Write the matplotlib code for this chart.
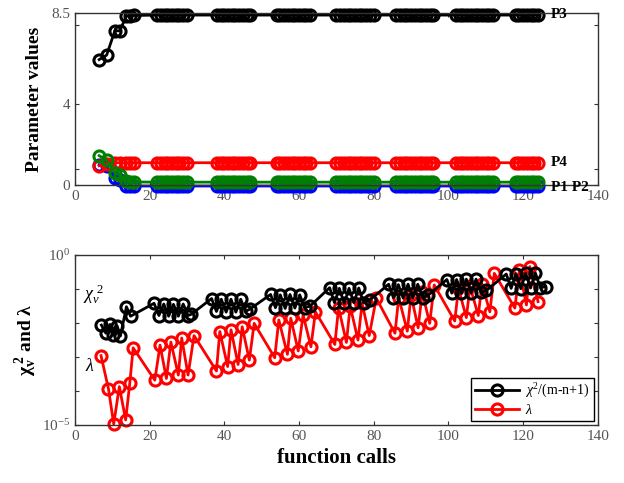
import numpy as np
import matplotlib
matplotlib.use('Agg')
import matplotlib.pyplot as plt

# fonts: Times-like serif everywhere, math too
plt.rcParams['font.family'] = ['Liberation Serif', 'DejaVu Serif']
plt.rcParams['mathtext.fontset'] = 'custom'
plt.rcParams['mathtext.rm'] = 'Liberation Serif'
plt.rcParams['mathtext.it'] = 'Liberation Serif:italic'
plt.rcParams['mathtext.bf'] = 'Liberation Serif:bold'

# ---- top panel: parameter values vs function calls ----
calls_top = [6.5, 8.5, 10.7, 12.0, 13.8, 14.8, 15.8,
             22, 23, 24, 25, 26, 27, 28, 29, 30,
             38, 39, 40, 41, 42, 43, 44, 45, 46, 47,
             54, 55, 56, 57, 58, 59, 60, 61, 62, 63,
             70, 71, 72, 73, 74, 75, 76, 77, 78, 79, 80,
             86, 87, 88, 89, 90, 91, 92, 93, 94, 95, 96,
             102, 103, 104, 105, 106, 107, 108, 109, 110, 111, 112,
             118, 119, 120, 121, 122, 123, 124]
p1 = [1.00, 0.92, 0.35, 0.25, -0.05, -0.05, -0.05,
      -0.05, -0.05, -0.05, -0.05, -0.05, -0.05, -0.05, -0.05, -0.05,
      -0.05, -0.05, -0.05, -0.05, -0.05, -0.05, -0.05, -0.05, -0.05, -0.05,
      -0.05, -0.05, -0.05, -0.05, -0.05, -0.05, -0.05, -0.05, -0.05, -0.05,
      -0.05, -0.05, -0.05, -0.05, -0.05, -0.05, -0.05, -0.05, -0.05, -0.05, -0.05,
      -0.05, -0.05, -0.05, -0.05, -0.05, -0.05, -0.05, -0.05, -0.05, -0.05, -0.05,
      -0.05, -0.05, -0.05, -0.05, -0.05, -0.05, -0.05, -0.05, -0.05, -0.05, -0.05,
      -0.05, -0.05, -0.05, -0.05, -0.05, -0.05, -0.05]
p2 = [1.45, 1.22, 0.60, 0.50, 0.18, 0.15, 0.15,
      0.14, 0.14, 0.14, 0.14, 0.14, 0.14, 0.14, 0.14, 0.14,
      0.14, 0.14, 0.14, 0.14, 0.14, 0.14, 0.14, 0.14, 0.14, 0.14,
      0.14, 0.14, 0.14, 0.14, 0.14, 0.14, 0.14, 0.14, 0.14, 0.14,
      0.14, 0.14, 0.14, 0.14, 0.14, 0.14, 0.14, 0.14, 0.14, 0.14, 0.14,
      0.14, 0.14, 0.14, 0.14, 0.14, 0.14, 0.14, 0.14, 0.14, 0.14, 0.14,
      0.14, 0.14, 0.14, 0.14, 0.14, 0.14, 0.14, 0.14, 0.14, 0.14, 0.14,
      0.14, 0.14, 0.14, 0.14, 0.14, 0.14, 0.14]
p3 = [6.20, 6.42, 7.62, 7.62, 8.35, 8.37, 8.38,
      8.40, 8.40, 8.40, 8.40, 8.40, 8.40, 8.40, 8.40, 8.40,
      8.40, 8.40, 8.40, 8.40, 8.40, 8.40, 8.40, 8.40, 8.40, 8.40,
      8.40, 8.40, 8.40, 8.40, 8.40, 8.40, 8.40, 8.40, 8.40, 8.40,
      8.40, 8.40, 8.40, 8.40, 8.40, 8.40, 8.40, 8.40, 8.40, 8.40, 8.40,
      8.40, 8.40, 8.40, 8.40, 8.40, 8.40, 8.40, 8.40, 8.40, 8.40, 8.40,
      8.40, 8.40, 8.40, 8.40, 8.40, 8.40, 8.40, 8.40, 8.40, 8.40, 8.40,
      8.40, 8.40, 8.40, 8.40, 8.40, 8.40, 8.40]
p4 = [0.95, 1.06, 1.10, 1.10, 1.10, 1.10, 1.10,
      1.10, 1.10, 1.10, 1.10, 1.10, 1.10, 1.10, 1.10, 1.10,
      1.10, 1.10, 1.10, 1.10, 1.10, 1.10, 1.10, 1.10, 1.10, 1.10,
      1.10, 1.10, 1.10, 1.10, 1.10, 1.10, 1.10, 1.10, 1.10, 1.10,
      1.10, 1.10, 1.10, 1.10, 1.10, 1.10, 1.10, 1.10, 1.10, 1.10, 1.10,
      1.10, 1.10, 1.10, 1.10, 1.10, 1.10, 1.10, 1.10, 1.10, 1.10, 1.10,
      1.10, 1.10, 1.10, 1.10, 1.10, 1.10, 1.10, 1.10, 1.10, 1.10, 1.10,
      1.10, 1.10, 1.10, 1.10, 1.10, 1.10, 1.10]

# ---- bottom panel: chi^2/(m-n+1) and lambda (log10 values) ----
calls_chi = [7.1, 8.3, 9.4, 10.3, 11.3, 12.2, 13.8, 14.9,
             21.2, 22.5, 23.8, 25.1, 26.4, 27.7, 29.0, 30.3, 31.2,
             36.6, 37.9, 39.2, 40.5, 41.8, 43.1, 44.4, 45.7, 47.0,
             52.4, 53.7, 55.0, 56.3, 57.6, 58.9, 60.2, 61.5, 63.0,
             68.2, 69.5, 70.8, 72.1, 73.4, 74.7, 76.0, 77.3, 79.0,
             84.0, 85.3, 86.6, 87.9, 89.2, 90.5, 91.8, 93.1, 94.6,
             99.6, 100.9, 102.2, 103.5, 104.8, 106.1, 107.4, 108.7, 110.2,
             115.5, 116.8, 118.1, 119.4, 120.7, 122.0, 123.3, 124.6, 126.0]
log_chi = [-2.06, -2.30, -2.04, -2.36, -2.08, -2.38, -1.52, -1.80,
           -1.42, -1.78, -1.44, -1.80, -1.45, -1.80, -1.44, -1.78, -1.74,
           -1.28, -1.66, -1.30, -1.68, -1.30, -1.68, -1.30, -1.66, -1.58,
           -1.16, -1.55, -1.17, -1.57, -1.16, -1.56, -1.17, -1.55, -1.50,
           -0.96, -1.40, -0.98, -1.42, -0.98, -1.40, -0.97, -1.40, -1.32,
           -0.86, -1.26, -0.87, -1.27, -0.86, -1.26, -0.86, -1.25, -1.18,
           -0.72, -1.12, -0.72, -1.13, -0.71, -1.12, -0.71, -1.10, -1.04,
           -0.56, -0.98, -0.55, -0.99, -0.54, -0.97, -0.53, -0.96, -0.93]

calls_lam = [7.0, 9.0, 10.4, 11.9, 13.6, 14.7, 15.6,
             21.4, 22.8, 24.5, 25.7, 27.7, 28.6, 30.3, 31.9,
             37.9, 38.8, 40.9, 41.8, 43.7, 44.8, 46.7, 48.0,
             53.5, 54.6, 56.9, 57.8, 59.8, 61.1, 63.2, 64.4,
             69.6, 70.6, 72.7, 73.7, 75.8, 76.9, 78.8, 80.7,
             85.7, 86.7, 89.0, 90.0, 91.9, 93.0, 95.0, 96.2,
             101.7, 102.7, 104.8, 105.8, 108.0, 109.0, 111.1, 112.3,
             117.8, 119.0, 120.9, 121.8, 124.0]
log_lam = [-2.96, -3.94, -4.97, -3.87, -4.85, -3.77, -2.73,
           -3.68, -2.65, -3.63, -2.56, -3.53, -2.44, -3.53, -2.37,
           -3.41, -2.25, -3.28, -2.20, -3.22, -2.11, -3.09, -2.01,
           -3.02, -1.91, -2.92, -1.86, -2.82, -1.76, -2.70, -1.67,
           -2.63, -1.55, -2.57, -1.50, -2.50, -1.42, -2.37, -1.27,
           -2.30, -1.25, -2.24, -1.18, -2.14, -1.10, -2.01, -0.88,
           -1.94, -0.98, -1.84, -0.92, -1.78, -0.85, -1.67, -0.54,
           -1.56, -0.44, -1.47, -0.34, -1.37]

chi = 10.0 ** np.array(log_chi)
lam = 10.0 ** np.array(log_lam)

fig = plt.figure(figsize=(6.24, 4.83), dpi=100)
ax1 = fig.add_axes([0.120, 0.617, 0.838, 0.356])
ax2 = fig.add_axes([0.120, 0.120, 0.838, 0.352])

mk = dict(marker='o', markersize=8, markerfacecolor='none', markeredgewidth=2.2,
          linewidth=2.0, clip_on=False)

ax1.plot(calls_top, p1, color='#0000ff', **mk)
ax1.plot(calls_top, p4, color='#ff0000', **mk)
ax1.plot(calls_top, p2, color='#008000', **mk)
ax1.plot(calls_top, p3, color='black', **mk)

ax1.set_xlim(0, 140)
ax1.set_ylim(0, 8.5)
ax1.set_xticks(range(0, 141, 20))
ax1.set_yticks([0, 4, 8.5])
ax1.set_yticklabels(['0', '4', '8.5'])
ax1.set_yticks([0.8, 7.9], minor=True)
ax1.set_ylabel('Parameter values', fontsize=14, fontweight='bold', labelpad=6)

# series names at the right end
lbl = dict(fontsize=11, fontweight='bold', va='center', ha='left', clip_on=False)
ax1.text(127.5, 8.45, 'P3', **lbl)
ax1.text(127.5, 1.1, 'P4', **lbl)
ax1.text(127.5, -0.1, 'P1 P2', **lbl)

# lambda first so the chi^2 clusters sit on top
l_lam, = ax2.plot(calls_lam, lam, color='#ff0000', label=r'$\lambda$', **mk)
l_chi, = ax2.plot(calls_chi, chi, color='black', label=r'$\chi^2$/(m-n+1)', **mk)
ax2.set_yscale('log')
ax2.set_xlim(0, 140)
ax2.set_ylim(1e-5, 1e0)
ax2.set_xticks(range(0, 141, 20))
ax2.set_yticks([1e-5, 1e-4, 1e-3, 1e-2, 1e-1, 1e0])
ax2.set_yticklabels([r'$10^{-5}$', '', '', '', '', r'$10^{0}$'])
ax2.yaxis.set_minor_locator(matplotlib.ticker.NullLocator())
ax2.set_xlabel('function calls', fontsize=15, fontweight='bold', labelpad=4)
ax2.set_ylabel(r'$\mathbf{\chi_v^{\ 2}\ and\ \lambda}$', fontsize=14, labelpad=2)

ax2.text(2.2, 10 ** -1.15, r'$\chi_v^{\ 2}$', fontsize=13, va='center', ha='left')
ax2.text(2.6, 10 ** -3.28, r'$\lambda$', fontsize=13, va='center', ha='left')

leg = ax2.legend([l_chi, l_lam], [l_chi.get_label(), l_lam.get_label()],
                 loc='lower right', fontsize=10, fancybox=False, framealpha=1,
                 edgecolor='black', handlelength=3.2, borderpad=0.3,
                 labelspacing=0.2, handletextpad=0.4, borderaxespad=0.3)
leg.get_frame().set_linewidth(1.0)

for ax in (ax1, ax2):
    ax.tick_params(which='both', direction='in', top=True, right=True,
                   length=3, width=0.8, colors='#333333', labelcolor='#555555',
                   labelsize=11)
    for s in ax.spines.values():
        s.set_color('#333333')
        s.set_linewidth(1.0)

fig.savefig('out.png', dpi=100)
